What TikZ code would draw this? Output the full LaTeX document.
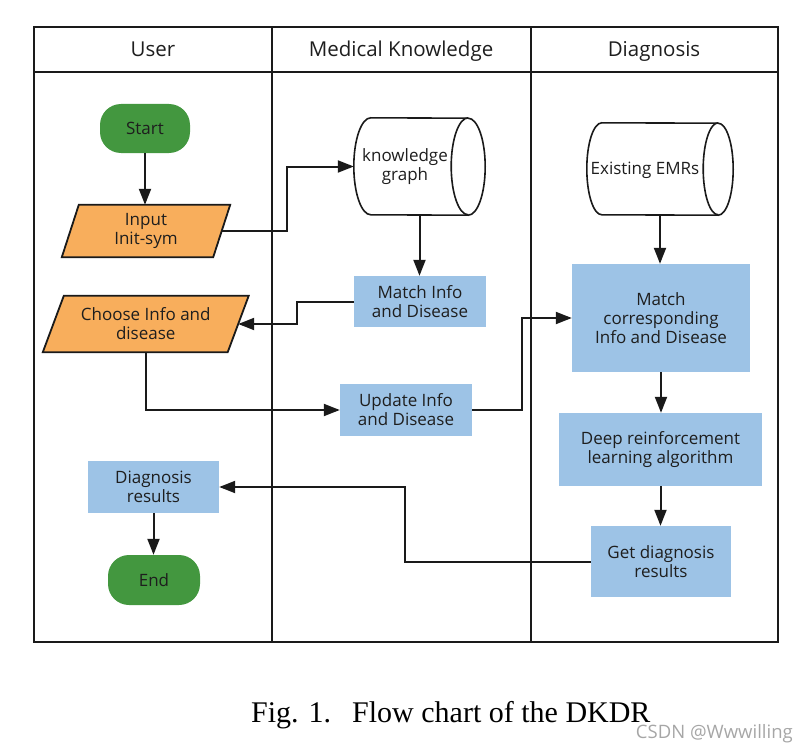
\documentclass[tikz,border=0pt]{standalone}
\usepackage{fontspec}
\setmainfont{Open Sans}
\newfontfamily\capfont{Liberation Serif}
\usetikzlibrary{arrows.meta,backgrounds,calc}
\definecolor{boxblue}{HTML}{9DC3E6}
\definecolor{termgreen}{HTML}{43973F}
\definecolor{ioorange}{HTML}{F8AE5C}
\definecolor{linecol}{HTML}{1A1A1A}
\definecolor{txtcol}{HTML}{1E1E1E}
\begin{document}
\begin{tikzpicture}[x=1pt,y=-1pt,
  every node/.style={font=\fontsize{17}{19}\selectfont, text=txtcol, align=center, inner sep=0pt},
  headtext/.style={font=\fontsize{20.5}{22}\selectfont, anchor=base},
  frameline/.style={draw=linecol, line width=2pt},
  conn/.style={draw=linecol, line width=2pt},
  arr/.style={conn, -{Triangle[length=16pt,width=12pt]}},
  procbox/.style={fill=boxblue},
  termbox/.style={fill=termgreen, rounded corners=21pt},
  cylline/.style={draw=linecol, line width=1.6pt, fill=white},
  ioline/.style={draw=linecol, line width=1.8pt, fill=ioorange}
]
\useasboundingbox (0,0) rectangle (807,752);

% swimlane frame
\draw[frameline] (34,27) rectangle (778,642);
\draw[frameline] (34,72) -- (778,72);
\draw[frameline] (272,27) -- (272,642);
\draw[frameline] (531,27) -- (531,642);
\node[headtext] (hUser) at (153,57) {User};
\node[headtext] (hMed) at (401,57) {Medical Knowledge};
\node[headtext] (hDiag) at (654,57) {Diagnosis};

% terminals
\node[termbox, minimum width=90pt, minimum height=49pt] (start) at (145,128.5) {Start};
\node[termbox, minimum width=92pt, minimum height=50pt] (endn) at (154,580) {End};

% parallelograms (input/output)
\node[minimum width=151pt, minimum height=52pt] (inp) at (146,231) {Input\\Init-sym};
\node[minimum width=184.5pt, minimum height=56pt] (choose) at (145.75,324) {Choose Info and\\disease};
\begin{scope}[on background layer]
  \draw[ioline] ([xshift=8.5pt]inp.north west) -- ([xshift=8.5pt]inp.north east)
     -- ([xshift=-8.5pt]inp.south east) -- ([xshift=-8.5pt]inp.south west) -- cycle;
  \draw[ioline] ([xshift=10.5pt]choose.north west) -- ([xshift=10.5pt]choose.north east)
     -- ([xshift=-10.5pt]choose.south east) -- ([xshift=-10.5pt]choose.south west) -- cycle;
\end{scope}

% cylinders
\node[minimum width=131pt, minimum height=97pt] (kg) at (419.5,166.5) {};
\draw[cylline] ([xshift=17pt]kg.north west) arc[start angle=90, end angle=270, x radius=17pt, y radius=48.5pt]
   -- ([xshift=-17pt]kg.south east) arc[start angle=-90, end angle=90, x radius=17pt, y radius=48.5pt] -- cycle;
\draw[cylline, fill=none] ([xshift=-17pt]kg.north east) arc[start angle=90, end angle=270, x radius=17pt, y radius=48.5pt];
\node (kgtext) at (405,167) {knowledge\\graph};

\node[minimum width=146pt, minimum height=92pt] (emr) at (660,169) {};
\draw[cylline] ([xshift=15pt]emr.north west) arc[start angle=90, end angle=270, x radius=15pt, y radius=46pt]
   -- ([xshift=-15pt]emr.south east) arc[start angle=-90, end angle=90, x radius=15pt, y radius=46pt] -- cycle;
\draw[cylline, fill=none] ([xshift=-15pt]emr.north east) arc[start angle=90, end angle=270, x radius=15pt, y radius=46pt];
\node (emrtext) at (645,170) {Existing EMRs};

% process boxes
\node[procbox, minimum width=132pt, minimum height=51pt] (match) at (420,301.5) {Match Info\\and Disease};
\node[procbox, minimum width=132pt, minimum height=52pt] (update) at (406,410) {Update Info\\and Disease};
\node[procbox, minimum width=178pt, minimum height=108pt] (mcorr) at (661,318) {Match\\corresponding\\Info and Disease};
\node[procbox, minimum width=203pt, minimum height=73pt] (deep) at (660.5,449.5) {Deep reinforcement\\learning algorithm};
\node[procbox, minimum width=140pt, minimum height=71pt] (get) at (661,561.5) {Get diagnosis\\results};
\node[procbox, minimum width=131pt, minimum height=52pt] (diag) at (153.5,487) {Diagnosis\\results};

% bend coordinates
\coordinate (bx1) at (287,0);
\coordinate (bx2) at (296.5,0);
\coordinate (bx3) at (521.5,0);
\coordinate (bx4) at (405,0);

% connectors
\draw[arr] (start.south) -- (start.south |- inp.north);
\draw[arr] (inp.east) -- (inp.east -| bx1) |- (kg.west);
\draw[arr] (kg.south) -- (kg.south |- match.north);
\draw[arr] (match.west) -- (match.west -| bx2) |- (choose.east);
\draw[arr] (choose.south) |- (update.west);
\draw[arr] (update.east) -- (update.east -| bx3) |- (mcorr.west);
\draw[arr] (emr.south) -- (emr.south |- mcorr.north);
\draw[arr] (mcorr.south) -- (mcorr.south |- deep.north);
\draw[arr] (deep.south) -- (deep.south |- get.north);
\draw[arr] (get.west) -- (get.west -| bx4) |- (diag.east);
\draw[arr] (diag.south) -- (diag.south |- endn.north);

% caption and watermark
\node[font=\capfont\fontsize{30}{34}\selectfont, text=black, anchor=base west] (caption) at (251,722) {Fig. 1.\hspace{21pt}Flow chart of the DKDR};
\node[font=\fontsize{18.5}{20}\selectfont, text=black!35, anchor=base east] (wmark) at (793,738) {CSDN @Wwwilling};
\end{tikzpicture}
\end{document}
